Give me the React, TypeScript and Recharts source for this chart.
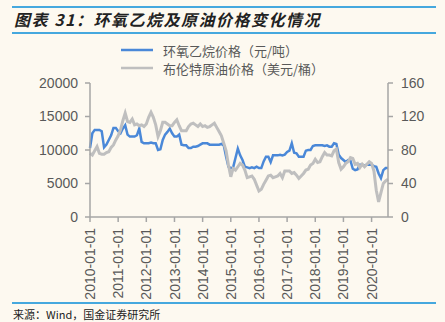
import { LineChart, Line, XAxis, YAxis, Legend } from "recharts";

const years = [2010, 2011, 2012, 2013, 2014, 2015, 2016, 2017, 2018, 2019, 2020];
const monthsInLastYear = 8;

// 环氧乙烷价格（元/吨），月度
const epoxyPrice = [
    10300, 12500, 13000, 13000, 13000, 12800, 10400, 10800, 11500, 12200, 13300, 13300,
    12800, 12500, 13200, 13700, 12300, 12000, 12000, 12000, 12200, 13200, 11200, 11000,
    11000, 11000, 11100, 11000, 11000, 10000, 10100, 11500, 12300, 12700, 13200, 12500,
    12000, 12000, 12300, 10800, 10700, 10700, 10300, 10300, 10500, 10500, 10600, 10800,
    11000, 11000, 11000, 10800, 10800, 10800, 10800, 10800, 10900, 10700, 9000, 7500,
    7300, 7400, 8800, 10200, 9200, 8500, 7500, 7400, 7300, 7400, 7300, 7500,
    7300, 7300, 8300, 9000, 9000, 8200, 9200, 9200, 9200, 9300, 9200, 9300,
    9700, 9900, 11000, 9600, 9500, 9000, 9000, 9000, 9900, 10000, 10000, 10600,
    10700, 10700, 10700, 10700, 10600, 10700, 10500, 10500, 11000, 10900, 9300, 8800,
    8500, 8200, 8500, 8400, 7200, 7000, 7100, 7800, 7800, 7700, 7800, 7800,
    7800, 7600, 7500, 6500, 5800, 7000, 7300, 7300,
];

// 布伦特原油价格（美元/桶），月度
const brentPrice = [
    76, 74, 79, 84, 76, 75, 75, 77, 78, 83, 86, 92,
    97, 104, 115, 124, 114, 113, 117, 110, 111, 109, 110, 108,
    111, 119, 125, 119, 110, 96, 103, 113, 113, 111, 109, 109,
    113, 116, 109, 103, 103, 103, 108, 111, 112, 110, 108, 111,
    108, 109, 107, 108, 110, 112, 107, 102, 97, 88, 79, 62,
    48, 58, 56, 60, 64, 62, 56, 47, 48, 49, 45, 38,
    31, 33, 39, 44, 49, 50, 47, 48, 49, 52, 47, 55,
    55, 55, 52, 53, 50, 46, 49, 52, 56, 57, 62, 64,
    69, 65, 66, 72, 77, 74, 74, 73, 79, 81, 65, 57,
    60, 64, 66, 71, 70, 63, 64, 59, 63, 60, 63, 66,
    64, 55, 32, 18, 29, 40, 43, 45,
];

const leftTicks = [0, 5000, 10000, 15000, 20000];
const rightTicks = [0, 20, 40, 60, 80, 100, 120, 140, 160];

const labelEpoxy = "环氧乙烷价格（元/吨）";
const labelBrent = "布伦特原油价格（美元/桶）";

const months: string[] = [];
years.forEach((y, yi) => {
    const n = yi === years.length - 1 ? monthsInLastYear : 12;
    for (let m = 1; m <= n; m++) {
        months.push(`${y}-${String(m).padStart(2, "0")}-01`);
    }
});

const data = months.map((date, i) => ({
    date,
    epoxy: epoxyPrice[i],
    brent: brentPrice[i],
}));

const BLUE = "#4A88D8";
const GRAY = "#BFBFBF";
const AXIS = "#A6A6A6";
const TEXT = "#595959";
const RULE = "#45A8DE";
const BG = "#FDF9F0";
const FONT = "'Liberation Sans', Arial, sans-serif";
const CJK = "'Noto Sans CJK SC', sans-serif";

const DateTick = (props: any) => {
    const { x, y, payload } = props;
    return (
        <g transform={`translate(${x},${y})`}>
            <text
                transform="rotate(-90)"
                x={-6}
                y={0}
                dy="0.36em"
                textAnchor="end"
                fill={TEXT}
                fontSize={14}
                fontFamily={FONT}
            >
                {payload.value}
            </text>
        </g>
    );
};

const LegendBox = () => (
    <div style={{ fontFamily: CJK, fontSize: 13, color: TEXT }}>
        {[
            { c: BLUE, t: labelEpoxy },
            { c: GRAY, t: labelBrent },
        ].map((it) => (
            <div
                key={it.t}
                style={{ display: "flex", alignItems: "center", height: 18 }}
            >
                <svg width={37} height={4} style={{ marginRight: 5 }}>
                    <line x1={0} y1={2} x2={32} y2={2} stroke={it.c} strokeWidth={2.5} />
                </svg>
                <span>{it.t}</span>
            </div>
        ))}
    </div>
);

export default function App() {
    return (
        <div
            style={{
                position: "absolute",
                left: 0,
                top: 0,
                width: 445,
                height: 322,
                background: BG,
                overflow: "hidden",
            }}
        >
            <div style={{ position: "absolute", left: 12, top: 6, width: 424, height: 2, background: RULE }} />
            <div
                style={{
                    position: "absolute",
                    left: 14,
                    top: 9,
                    fontFamily: CJK,
                    fontSize: 16,
                    fontWeight: "bold",
                    fontStyle: "italic",
                    color: "#222",
                    letterSpacing: 1.5,
                    lineHeight: "20px",
                    whiteSpace: "nowrap",
                }}
            >
                图表 31：环氧乙烷及原油价格变化情况
            </div>
            <div style={{ position: "absolute", left: 12, top: 32, width: 424, height: 2, background: RULE }} />

            <div style={{ position: "absolute", left: 0, top: 0 }}>
                <LineChart
                    width={445}
                    height={322}
                    data={data}
                    margin={{ top: 83, right: 7, left: 40, bottom: 20 }}
                >
                    <XAxis
                        dataKey="date"
                        interval={11}
                        height={85}
                        tick={<DateTick />}
                        tickSize={5}
                        tickMargin={0}
                        axisLine={{ stroke: AXIS, strokeWidth: 1.5 }}
                        tickLine={{ stroke: AXIS, strokeWidth: 1.5 }}
                    />
                    <YAxis
                        yAxisId="left"
                        width={50}
                        domain={[0, 20000]}
                        ticks={leftTicks}
                        tickSize={5}
                        tickMargin={7}
                        tick={{ fill: TEXT, fontSize: 14, fontFamily: FONT }}
                        axisLine={{ stroke: AXIS, strokeWidth: 1.5 }}
                        tickLine={{ stroke: AXIS, strokeWidth: 1.5 }}
                    />
                    <YAxis
                        yAxisId="right"
                        orientation="right"
                        width={50}
                        domain={[0, 160]}
                        ticks={rightTicks}
                        tickSize={5}
                        tickMargin={8}
                        tick={{ fill: TEXT, fontSize: 14, fontFamily: FONT, textAnchor: "start" }}
                        axisLine={{ stroke: AXIS, strokeWidth: 1.5 }}
                        tickLine={{ stroke: AXIS, strokeWidth: 1.5 }}
                    />
                    <Legend
                        layout="vertical"
                        align="center"
                        verticalAlign="middle"
                        content={<LegendBox />}
                        wrapperStyle={{ left: 121, top: 41, width: 280, height: 40 }}
                    />
                    <Line
                        yAxisId="left"
                        type="linear"
                        dataKey="epoxy"
                        stroke={BLUE}
                        strokeWidth={2.5}
                        dot={false}
                        isAnimationActive={false}
                    />
                    <Line
                        yAxisId="right"
                        type="linear"
                        dataKey="brent"
                        stroke={GRAY}
                        strokeWidth={3}
                        dot={false}
                        isAnimationActive={false}
                    />
                </LineChart>
            </div>

            <div style={{ position: "absolute", left: 12, top: 302, width: 424, height: 2, background: RULE }} />
            <div
                style={{
                    position: "absolute",
                    left: 13,
                    top: 306,
                    fontFamily: CJK,
                    fontSize: 11,
                    color: "#222",
                    lineHeight: "16px",
                    whiteSpace: "nowrap",
                }}
            >
                来源：Wind，国金证券研究所
            </div>
        </div>
    );
}
